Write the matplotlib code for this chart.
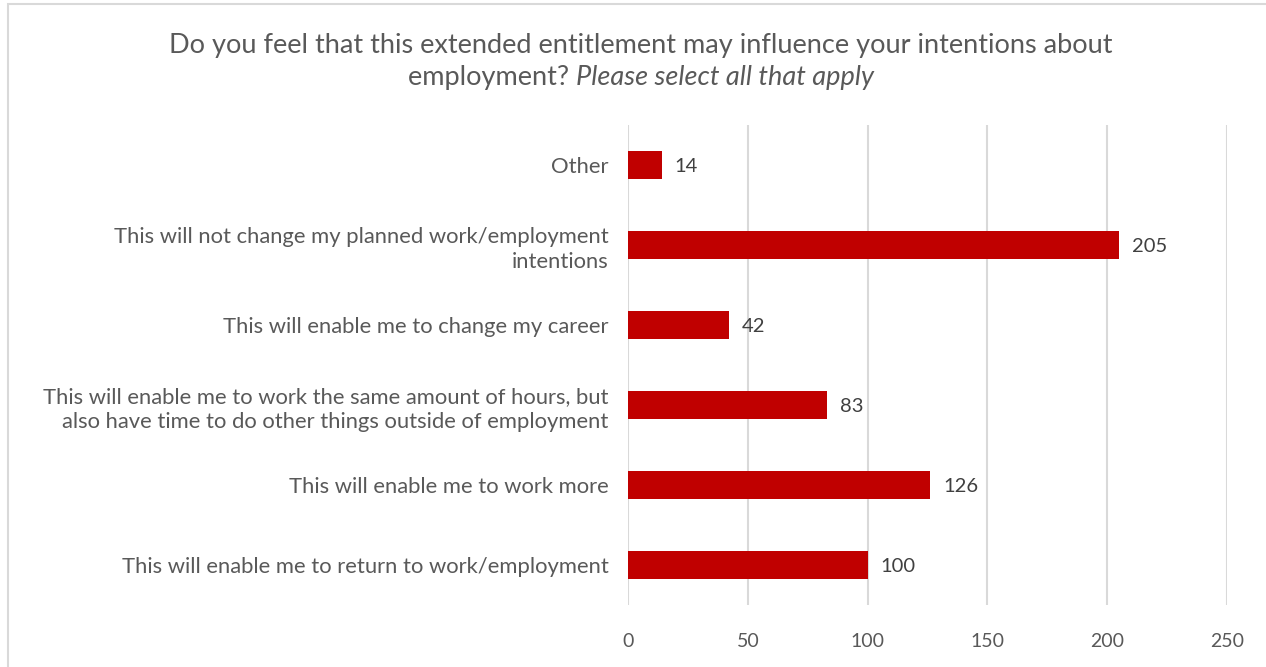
import matplotlib.pyplot as plt
from matplotlib.patches import Rectangle

plt.rcParams['font.family'] = ['Lato', 'DejaVu Sans']

categories = [
    'This will enable me to return to work/employment',
    'This will enable me to work more',
    'This will enable me to work the same amount of hours, but\nalso have time to do other things outside of employment',
    'This will enable me to change my career',
    'This will not change my planned work/employment\nintentions',
    'Other',
]
values = [100, 126, 83, 42, 205, 14]
xticks = [0, 50, 100, 150, 200, 250]

bar_color = '#C00000'
text_color = '#595959'
grid_color = '#D9D9D9'

fig = plt.figure(figsize=(12.66, 6.67), dpi=100)
W, H = 1266, 667

# outer chart frame
fig.patches.append(Rectangle((8 / W, -0.1), 1.2, 1 - 4 / H + 0.1, transform=fig.transFigure,
                             fill=False, edgecolor=grid_color, linewidth=1.5))

ax = fig.add_axes([628 / W, (H - 605) / H, (1227 - 628) / W, (605 - 125) / H])
y = range(len(categories))
ax.barh(y, values, height=0.35, color=bar_color, zorder=3)
for yi, v in zip(y, values):
    ax.text(v + 5.5, yi, str(v), va='center_baseline', ha='left', fontsize=14.5, color='#404040')

ax.set_xlim(0, 250)
ax.set_ylim(-0.5, len(categories) - 0.5)
ax.set_xticks(xticks)
ax.set_yticks(list(y))
ax.set_yticklabels(categories, fontsize=15.8, color=text_color, linespacing=1.3)
ax.tick_params(axis='both', length=0, colors=text_color)
ax.tick_params(axis='x', labelsize=14, pad=20)
ax.tick_params(axis='y', pad=14)
ax.grid(axis='x', color=grid_color, linewidth=1.5, zorder=0)
for s in ax.spines.values():
    s.set_visible(False)

# title, second line mixes regular and italic text
fs = 19.5
fig.text(641 / W, 1 - 45 / H, 'Do you feel that this extended entitlement may influence your intentions about',
         ha='center', va='center', fontsize=fs, color=text_color)
t1 = fig.text(0, 1 - 78 / H, 'employment? ', ha='left', va='center', fontsize=fs, color=text_color)
t2 = fig.text(0, 1 - 78 / H, 'Please select all that apply', ha='left', va='center', fontsize=fs,
              color=text_color, style='italic')
r = fig.canvas.get_renderer()
w1 = t1.get_window_extent(r).width
w2 = t2.get_window_extent(r).width
x0 = 641 - (w1 + w2) / 2
t1.set_x(x0 / W)
t2.set_x((x0 + w1) / W)

fig.savefig('out.png', dpi=100)
